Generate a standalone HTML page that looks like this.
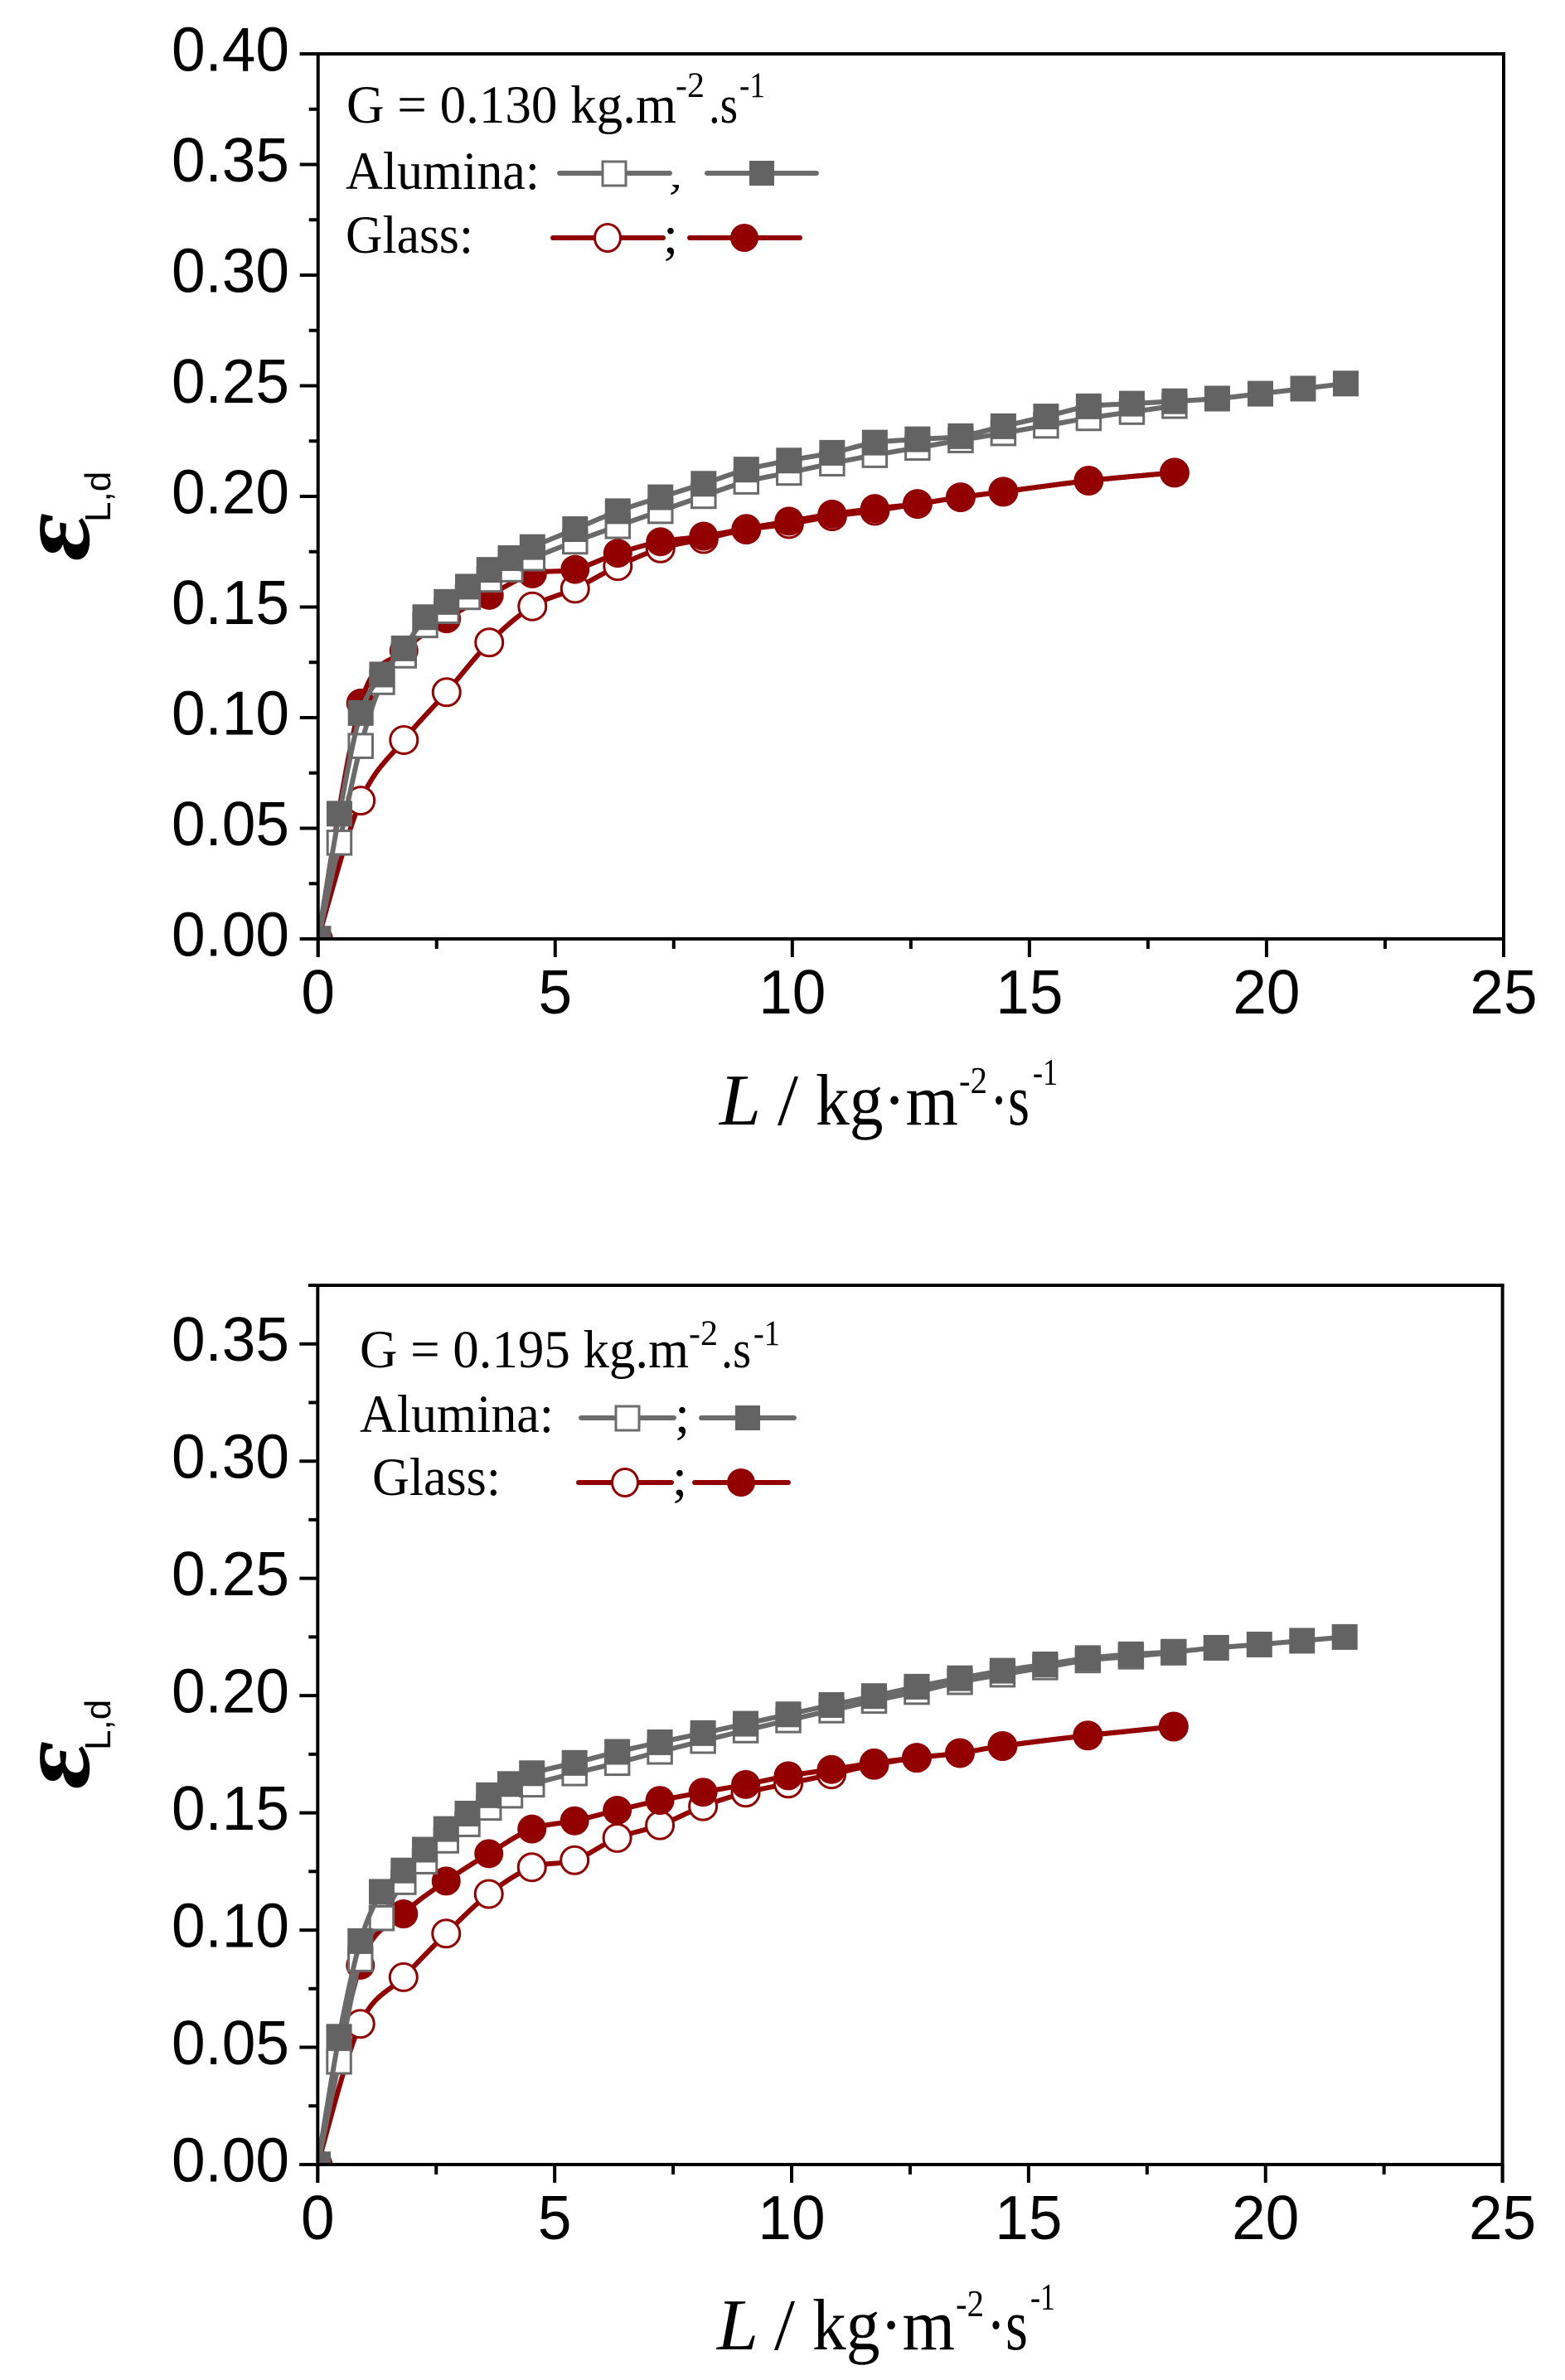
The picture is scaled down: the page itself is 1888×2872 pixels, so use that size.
<!DOCTYPE html>
<html lang="en">
<head>
<meta charset="utf-8">
<title>Liquid holdup vs liquid flux</title>
<style>
html,body{margin:0;padding:0;background:#fff}
svg{display:block}
.tick{font-family:"Liberation Sans",sans-serif;font-size:75px;fill:#000}
.serif{font-family:"Liberation Serif",serif;fill:#000}
.legend{font-size:65px}
.sup{font-size:43px}
.xt{font-size:88px}
.xs{font-size:46px}
.sub{font-family:"Liberation Sans",sans-serif;font-size:44px;fill:#000}
</style>
</head>
<body>
<svg id="chart" xmlns="http://www.w3.org/2000/svg" width="1888" height="2872" viewBox="0 0 1888 2872">
<rect x="0" y="0" width="1888" height="2872" fill="#fff"/>
<defs>
<clipPath id="clip-top"><rect x="383.7" y="65" width="1430.3" height="1068"/></clipPath>
<clipPath id="clip-bottom"><rect x="383.3" y="1551" width="1429.3" height="1061"/></clipPath>
<clipPath id="clip-separator"><rect x="795" y="223" width="30" height="20"/></clipPath>
</defs>

<g id="panel-top"></g>
<g id="panel-bottom"></g>

<!-- top panel text -->
<g>
  <text class="serif legend" x="418" y="148" textLength="398" lengthAdjust="spacingAndGlyphs">G = 0.130 kg.m</text>
  <text class="serif sup" x="815" y="117" textLength="35" lengthAdjust="spacingAndGlyphs">-2</text>
  <text class="serif legend" x="855" y="148" textLength="35" lengthAdjust="spacingAndGlyphs">.s</text>
  <text class="serif sup" x="892" y="117" textLength="31" lengthAdjust="spacingAndGlyphs">-1</text>
  <text class="serif legend" x="417" y="228" textLength="234" lengthAdjust="spacingAndGlyphs">Alumina:</text>
  <text class="serif legend" x="417" y="305" textLength="154" lengthAdjust="spacingAndGlyphs">Glass:</text>
  <g clip-path="url(#clip-separator)">
    <text class="serif legend" x="806" y="225">;</text>
  </g>
  <text class="serif legend" x="800" y="305">;</text>
  <g>
    <line x1="675" y1="209" x2="808" y2="209" stroke="#6c6c6c" stroke-width="6" stroke-linecap="round"/>
    <rect x="727" y="195" width="28" height="29" fill="#fff" stroke="#6c6c6c" stroke-width="3"/>
  </g>
  <g>
    <line x1="853" y1="209" x2="985" y2="209" stroke="#6c6c6c" stroke-width="6" stroke-linecap="round"/>
    <rect x="904" y="194" width="30" height="30" fill="#636363"/>
  </g>
  <g>
    <line x1="667" y1="287" x2="800" y2="287" stroke="#930000" stroke-width="6" stroke-linecap="round"/>
    <ellipse cx="733" cy="287" rx="15.5" ry="16.5" fill="#fff" stroke="#930000" stroke-width="3"/>
  </g>
  <g>
    <line x1="832" y1="287" x2="965" y2="287" stroke="#930000" stroke-width="6" stroke-linecap="round"/>
    <ellipse cx="898" cy="287" rx="17" ry="17" fill="#930000"/>
  </g>
</g>
<g>
  <text class="serif xt" x="868" y="1357" font-style="italic" textLength="50" lengthAdjust="spacingAndGlyphs">L</text>
  <text class="serif xt" x="938" y="1357" textLength="25" lengthAdjust="spacingAndGlyphs">/</text>
  <text class="serif xt" x="984" y="1357" textLength="172" lengthAdjust="spacingAndGlyphs">kg·m</text>
  <text class="serif xs" x="1157" y="1319" textLength="34" lengthAdjust="spacingAndGlyphs">-2</text>
  <text class="serif xt" x="1194" y="1357" textLength="48" lengthAdjust="spacingAndGlyphs">·s</text>
  <text class="serif xs" x="1246" y="1309" textLength="30" lengthAdjust="spacingAndGlyphs">-1</text>
</g>
<g>
  <text class="serif" font-size="125" font-weight="bold" font-style="italic" transform="translate(107,677) rotate(-90) scale(1.13,1)">ε</text>
  <text class="sub" transform="translate(133,630) rotate(-90)">L,d</text>
</g>

<!-- bottom panel text -->
<g>
  <text class="serif legend" x="434" y="1650" textLength="397" lengthAdjust="spacingAndGlyphs">G = 0.195 kg.m</text>
  <text class="serif sup" x="831" y="1623" textLength="35" lengthAdjust="spacingAndGlyphs">-2</text>
  <text class="serif legend" x="870" y="1650" textLength="36" lengthAdjust="spacingAndGlyphs">.s</text>
  <text class="serif sup" x="909" y="1623" textLength="32" lengthAdjust="spacingAndGlyphs">-1</text>
  <text class="serif legend" x="434" y="1728" textLength="234" lengthAdjust="spacingAndGlyphs">Alumina:</text>
  <text class="serif legend" x="449" y="1804" textLength="155" lengthAdjust="spacingAndGlyphs">Glass:</text>
  <text class="serif legend" x="814" y="1728">;</text>
  <text class="serif legend" x="811" y="1804">;</text>
  <g>
    <line x1="701" y1="1711" x2="813" y2="1711" stroke="#6c6c6c" stroke-width="6" stroke-linecap="round"/>
    <rect x="743" y="1697" width="28" height="29" fill="#fff" stroke="#6c6c6c" stroke-width="3"/>
  </g>
  <g>
    <line x1="846" y1="1711" x2="958" y2="1711" stroke="#6c6c6c" stroke-width="6" stroke-linecap="round"/>
    <rect x="887" y="1696" width="30" height="30" fill="#636363"/>
  </g>
  <g>
    <line x1="698" y1="1789" x2="810" y2="1789" stroke="#930000" stroke-width="6" stroke-linecap="round"/>
    <ellipse cx="754" cy="1789" rx="15.5" ry="16.5" fill="#fff" stroke="#930000" stroke-width="3"/>
  </g>
  <g>
    <line x1="838" y1="1789" x2="951" y2="1789" stroke="#930000" stroke-width="6" stroke-linecap="round"/>
    <ellipse cx="894" cy="1789" rx="17" ry="17" fill="#930000"/>
  </g>
</g>
<g>
  <text class="serif xt" x="865" y="2835" font-style="italic" textLength="50" lengthAdjust="spacingAndGlyphs">L</text>
  <text class="serif xt" x="934" y="2835" textLength="25" lengthAdjust="spacingAndGlyphs">/</text>
  <text class="serif xt" x="980" y="2835" textLength="172" lengthAdjust="spacingAndGlyphs">kg·m</text>
  <text class="serif xs" x="1153" y="2795" textLength="34" lengthAdjust="spacingAndGlyphs">-2</text>
  <text class="serif xt" x="1190" y="2835" textLength="50" lengthAdjust="spacingAndGlyphs">·s</text>
  <text class="serif xs" x="1243" y="2787" textLength="30" lengthAdjust="spacingAndGlyphs">-1</text>
</g>
<g>
  <text class="serif" font-size="125" font-weight="bold" font-style="italic" transform="translate(107,2159) rotate(-90) scale(1.13,1)">ε</text>
  <text class="sub" transform="translate(133,2112) rotate(-90)">L,d</text>
</g>
</svg>

<script>
// Liquid flux values (kg m-2 s-1)
const aluminaL = [0,0.45,0.90,1.35,1.81,2.26,2.71,3.16,3.61,4.06,4.52,5.42,6.32,7.22,8.13,9.03,9.93,10.84,11.74,12.64,13.55,14.45,15.35,16.25,17.16,18.06,18.96,19.87,20.77,21.67];
const glassL = [0,0.90,1.81,2.71,3.61,4.52,5.42,6.32,7.22,8.13,9.03,9.93,10.84,11.74,12.64,13.55,14.45,16.25,18.06];

// G = 0.130 series
const topAluminaOpen = [0,0.0435,0.0872,0.1161,0.1281,0.1418,0.1482,0.1545,0.1624,0.167,0.172,0.1796,0.1866,0.1934,0.2002,0.2067,0.2107,0.2149,0.2187,0.222,0.2254,0.2286,0.232,0.2354,0.2382,0.2409];
const topAluminaFilled = [0,0.0566,0.1021,0.1195,0.1313,0.1454,0.1523,0.1592,0.1668,0.1721,0.1771,0.1852,0.1933,0.1996,0.2057,0.2121,0.2162,0.2197,0.2243,0.2258,0.2272,0.2317,0.2361,0.2407,0.2419,0.243,0.2442,0.2464,0.2487,0.251];
const topGlassOpen = [0,0.0625,0.0899,0.1115,0.134,0.1503,0.1583,0.1685,0.1765,0.1807,0.185,0.1875,0.191,0.1935,0.1966,0.1996,0.2021,0.2071,0.2107];
const topGlassFilled = [0,0.1066,0.1303,0.1447,0.1553,0.165,0.167,0.1743,0.1795,0.182,0.1855,0.1888,0.192,0.1945,0.1966,0.1996,0.2021,0.2071,0.2107];

// G = 0.195 series
const bottomAluminaOpen = [0,0.0439,0.0876,0.1051,0.1205,0.1293,0.1382,0.1452,0.1522,0.1574,0.1621,0.1669,0.1713,0.1761,0.1807,0.1852,0.1895,0.1937,0.1978,0.2016,0.2058,0.209,0.2121,0.2151,0.2167,0.2184];
const bottomAluminaFilled = [0,0.0545,0.0953,0.1163,0.1254,0.1343,0.1431,0.1497,0.1575,0.1623,0.1669,0.1713,0.176,0.1801,0.184,0.188,0.192,0.196,0.1998,0.2038,0.2074,0.2106,0.2133,0.216,0.2176,0.2187,0.2204,0.2218,0.2234,0.225];
const bottomGlassOpen = [0,0.06,0.0799,0.0985,0.1154,0.1268,0.1298,0.1393,0.1447,0.1528,0.1586,0.1625,0.1664,0.1705,0.1735,0.1755,0.1785,0.183,0.1868];
const bottomGlassFilled = [0,0.085,0.1069,0.1209,0.1326,0.1431,0.1466,0.1511,0.1553,0.1588,0.1621,0.1658,0.1685,0.1713,0.1735,0.1755,0.1785,0.183,0.1868];

// Tick labels
const xTickLabels = ['0','5','10','15','20','25'];
const topYTickLabels = ['0.00','0.05','0.10','0.15','0.20','0.25','0.30','0.35','0.40'];
const bottomYTickLabels = ['0.00','0.05','0.10','0.15','0.20','0.25','0.30','0.35'];

const NS = 'http://www.w3.org/2000/svg';
const GRAY = '#6a6a6a', GRAY_FILL = '#636363', RED = '#930000';

function make(parent, tag, attrs, text) {
  const el = document.createElementNS(NS, tag);
  for (const k in attrs) el.setAttribute(k, attrs[k]);
  if (text !== undefined) el.textContent = text;
  parent.appendChild(el);
  return el;
}

function labelWidth(label) {
  let units = 0;
  for (const ch of label) units += ch === '.' ? 0.278 : 0.556;
  return units * 73;
}

function smoothPath(pts) {
  let d = 'M' + pts[0][0].toFixed(2) + ' ' + pts[0][1].toFixed(2);
  for (let i = 0; i < pts.length - 1; i++) {
    const p0 = pts[Math.max(0, i - 1)], p1 = pts[i], p2 = pts[i + 1], p3 = pts[Math.min(pts.length - 1, i + 2)];
    const c1x = p1[0] + (p2[0] - p0[0]) / 6, c1y = p1[1] + (p2[1] - p0[1]) / 6;
    const c2x = p2[0] - (p3[0] - p1[0]) / 6, c2y = p2[1] - (p3[1] - p1[1]) / 6;
    d += 'C' + c1x.toFixed(2) + ' ' + c1y.toFixed(2) + ' ' + c2x.toFixed(2) + ' ' + c2y.toFixed(2) + ' ' + p2[0].toFixed(2) + ' ' + p2[1].toFixed(2);
  }
  return d;
}

function drawSeries(group, seriesName, xs, ys, xScale, yScale, color, square, filled) {
  const g = make(group, 'g', {});
  
  
  const pts = ys.map((v, i) => [xScale(xs[i]), yScale(v)]);
  const line = make(g, 'path', {d: smoothPath(pts), fill: 'none', stroke: color, 'stroke-width': 6, 'stroke-linejoin': 'round'});
  
  
  pts.forEach(p => {
    let m;
    if (square) {
      const s = filled ? 31 : 28.5;
      m = make(g, 'rect', {x: p[0] - s / 2, y: p[1] - s / 2, width: s, height: s,
        fill: filled ? GRAY_FILL : '#fff', stroke: filled ? 'none' : GRAY, 'stroke-width': filled ? 0 : 3});
    } else {
      m = make(g, 'circle', {cx: p[0], cy: p[1], r: filled ? 17.5 : 16.5,
        fill: filled ? RED : '#fff', stroke: filled ? 'none' : RED, 'stroke-width': filled ? 0 : 3});
    }
    
    
  });
}

function drawAxes(group, prefix, left, right, top, bottom, yMax, yLabels, xBaseline, topStart) {
  const xScale = v => left + (right - left) * v / 25;
  const yScale = v => bottom - (bottom - top) * v / yMax;
  const axisStyle = {stroke: '#000', 'stroke-width': 4, 'stroke-linecap': 'butt'};

  const frame = [
    ['top-spine', topStart, top, right + 2, top],
    ['bottom-spine', left - 22, bottom, right + 2, bottom],
    ['left-spine', left, top - 2, left, bottom + 22],
    ['right-spine', right, top - 2, right, bottom + 22]
  ];
  frame.forEach(f => {
    const ln = make(group, 'line', Object.assign({x1: f[1], y1: f[2], x2: f[3], y2: f[4]}, axisStyle));
    
    
  });

  xTickLabels.forEach((label, i) => {
    const v = Number(label);
    const x = xScale(v);
    const ln = make(group, 'line', Object.assign({x1: x, y1: bottom, x2: x, y2: bottom + 22}, axisStyle));
    
    
    const t = make(group, 'text', {x: x, y: xBaseline, class: 'tick', 'text-anchor': 'middle', textLength: labelWidth(label), lengthAdjust: 'spacingAndGlyphs'}, label);
    
    
    if (i < xTickLabels.length - 1) {
      const xm = xScale(v + 2.5);
      const mn = make(group, 'line', Object.assign({x1: xm, y1: bottom, x2: xm, y2: bottom + 12}, axisStyle));
      
      
    }
  });

  yLabels.forEach(label => {
    const v = Number(label);
    const y = yScale(v);
    const ln = make(group, 'line', Object.assign({x1: left - 22, y1: y, x2: left, y2: y}, axisStyle));
    
    
    const t = make(group, 'text', {x: 349, y: y + 20.5, class: 'tick', 'text-anchor': 'end', textLength: labelWidth(label), lengthAdjust: 'spacingAndGlyphs'}, label);
    
    
    if (v + 0.025 <= yMax + 1e-9) {
      const ym = yScale(v + 0.025);
      const mn = make(group, 'line', Object.assign({x1: left - 11, y1: ym, x2: left, y2: ym}, axisStyle));
      
      
    }
  });
  return {xScale, yScale};
}

function drawPanel(id, prefix, clipId, left, right, top, bottom, yMax, yLabels, xBaseline, topStart, glassOpen, glassFilled, aluminaOpen, aluminaFilled) {
  const group = document.getElementById(id);
  const marks = make(group, 'g', {'clip-path': 'url(#' + clipId + ')'});
  
  
  const xScale = v => left + (right - left) * v / 25;
  const yScale = v => bottom - (bottom - top) * v / yMax;
  drawSeries(marks, prefix + '-glass-open', glassL, glassOpen, xScale, yScale, RED, false, false);
  drawSeries(marks, prefix + '-glass-filled', glassL, glassFilled, xScale, yScale, RED, false, true);
  drawSeries(marks, prefix + '-alumina-open', aluminaL, aluminaOpen, xScale, yScale, GRAY, true, false);
  drawSeries(marks, prefix + '-alumina-filled', aluminaL, aluminaFilled, xScale, yScale, GRAY, true, true);
  drawAxes(group, prefix, left, right, top, bottom, yMax, yLabels, xBaseline, topStart);
}

drawPanel('panel-top', 'top', 'clip-top', 383.7, 1814, 65, 1133, 0.40, topYTickLabels, 1223, 361.7, topGlassOpen, topGlassFilled, topAluminaOpen, topAluminaFilled);
drawPanel('panel-bottom', 'bottom', 'clip-bottom', 383.3, 1812.6, 1551, 2612, 0.375, bottomYTickLabels, 2702, 372, bottomGlassOpen, bottomGlassFilled, bottomAluminaOpen, bottomAluminaFilled);
</script>
</body>
</html>
